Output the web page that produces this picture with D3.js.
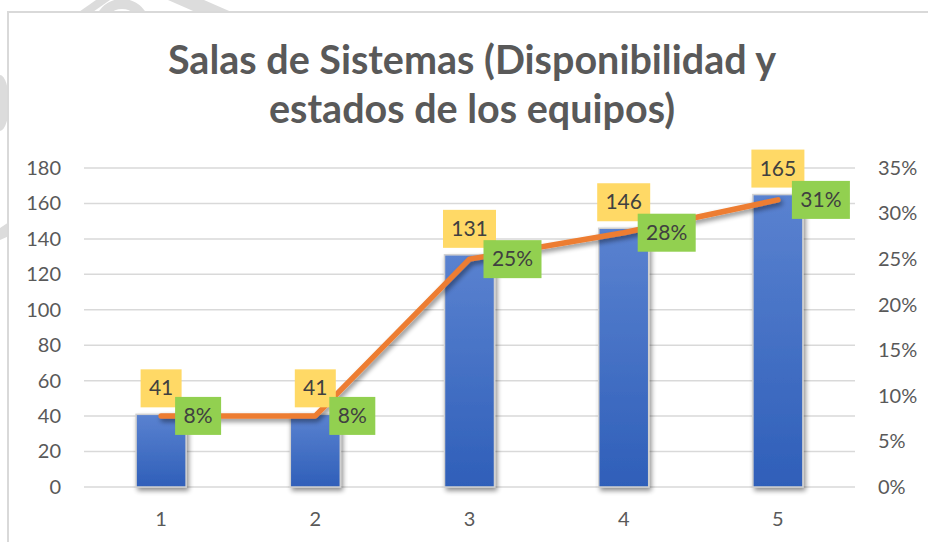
<!DOCTYPE html>
<html><head><meta charset="utf-8">
<script src="https://cdn.jsdelivr.net/npm/d3@7"></script>
<style>body{margin:0;background:#fff}svg{display:block}</style>
</head><body>
<script>
const categories = ["1","2","3","4","5"];
const counts = [41, 41, 131, 146, 165];
const shares = [0.078, 0.078, 0.25, 0.279, 0.315];
const shareLabels = ["8%","8%","25%","28%","31%"];
const leftTicks = [0,20,40,60,80,100,120,140,160,180];
const rightTicks = [0,0.05,0.10,0.15,0.20,0.25,0.30,0.35];
const titleLines = ["Salas de Sistemas (Disponibilidad y","estados de los equipos)"];

const W=928,H=542, font="Lato, 'Noto Sans', sans-serif";
const svg=d3.select("body").append("svg").attr("width",W).attr("height",H);
const defs=svg.append("defs");
const g1=defs.append("linearGradient").attr("id","barg").attr("x1",0).attr("y1",0).attr("x2",0).attr("y2",1);
g1.append("stop").attr("offset","0%").attr("stop-color","#5a82d0");
g1.append("stop").attr("offset","100%").attr("stop-color","#2f5fb9");
const f=defs.append("filter").attr("id","sh").attr("x","-30%").attr("y","-30%").attr("width","160%").attr("height","160%");
f.append("feGaussianBlur").attr("in","SourceAlpha").attr("stdDeviation",2.5).attr("result","b");
f.append("feOffset").attr("in","b").attr("dx",2).attr("dy",3).attr("result","o");
f.append("feComponentTransfer").attr("in","o").attr("result","o2").append("feFuncA").attr("type","linear").attr("slope",0.45);
const m=f.append("feMerge"); m.append("feMergeNode").attr("in","o2"); m.append("feMergeNode").attr("in","SourceGraphic");

// faint watermark pieces outside the chart frame
const wm=svg.append("g").attr("fill","#dcdcdc").attr("stroke","none");
wm.append("circle").attr("cx",122).attr("cy",27).attr("r",23).attr("fill","none").attr("stroke","#dcdcdc").attr("stroke-width",10);
wm.append("path").attr("d","M76,14 L96,0 L110,0 L90,14 Z");
wm.append("path").attr("d","M168,0 L204,0 L236,14 L200,14 Z");
wm.append("ellipse").attr("cx",0).attr("cy",103).attr("rx",9).attr("ry",28);
wm.append("path").attr("d","M0,228 L9,222 L9,236 L0,240 Z");

// chart frame
svg.append("rect").attr("x",8).attr("y",12).attr("width",W+10).attr("height",H+10)
  .attr("fill","#fff").attr("stroke","#d9d9d9").attr("stroke-width",2);

const x=d3.scaleBand().domain(categories).range([84,855]).paddingInner(0).paddingOuter(0);
const yL=d3.scaleLinear().domain([0,180]).range([487,168]);
const yR=d3.scaleLinear().domain([0,0.35]).range([487,168]);

// title
svg.append("g").selectAll("text").data(titleLines).join("text")
  .attr("x",472).attr("y",(d,i)=>74+i*49).attr("text-anchor","middle")
  .attr("font-family",font).attr("font-weight",700).attr("font-size",39.5).attr("fill","#595959").text(d=>d);

// gridlines
svg.append("g").selectAll("line").data(leftTicks).join("line")
  .attr("x1",84).attr("x2",855).attr("y1",d=>yL(d)).attr("y2",d=>yL(d))
  .attr("stroke","#d9d9d9").attr("stroke-width",1.5);

// left axis
const axL=svg.append("g").attr("transform","translate(84,0)")
  .call(d3.axisLeft(yL).tickValues(leftTicks).tickSize(0).tickPadding(23));
axL.select(".domain").remove();
axL.selectAll("text").attr("font-family",font).attr("font-size",20).attr("fill","#595959");

// right axis
const axR=svg.append("g").attr("transform","translate(855,0)")
  .call(d3.axisRight(yR).tickValues(rightTicks).tickFormat(d3.format(".0%")).tickSize(0).tickPadding(23));
axR.select(".domain").remove();
axR.selectAll("text").attr("font-family",font).attr("font-size",20).attr("fill","#595959");

// x axis
const axB=svg.append("g").attr("transform","translate(0,487)")
  .call(d3.axisBottom(x).tickSize(0).tickPadding(25));
axB.select(".domain").remove();
axB.selectAll("text").attr("font-family",font).attr("font-size",20).attr("fill","#595959");

// bars
const bw=50;
svg.append("g").selectAll("rect").data(counts).join("rect")
  .attr("x",(d,i)=>x(categories[i])+x.bandwidth()/2-bw/2).attr("width",bw)
  .attr("y",d=>yL(d)).attr("height",d=>487-yL(d))
  .attr("fill","url(#barg)").attr("stroke","#d0d0d0").attr("stroke-width",1.5).attr("filter","url(#sh)");

// line
const cx=i=>x(categories[i])+x.bandwidth()/2;
svg.append("path").datum(shares)
  .attr("d",d3.line().x((d,i)=>cx(i)).y(d=>yR(d)))
  .attr("fill","none").attr("stroke","#ed7d31").attr("stroke-width",5.5)
  .attr("stroke-linecap","round").attr("stroke-linejoin","round").attr("filter","url(#sh)");

// count labels
const lc=svg.append("g").selectAll("g").data(counts).join("g");
lc.each(function(d,i){
  const g=d3.select(this);
  const t=String(d), w=t.length===2?41:53;
  const bx=cx(i)-w/2, by=yL(d)-7-38;
  g.append("rect").attr("x",bx).attr("y",by).attr("width",w).attr("height",38).attr("fill","#ffd966");
  g.append("text").attr("x",cx(i)).attr("y",by+26).attr("text-anchor","middle")
   .attr("font-family",font).attr("font-size",21).attr("fill","#404040").text(t);
});

// share labels
const ls=svg.append("g").selectAll("g").data(shares).join("g");
ls.each(function(d,i){
  const g=d3.select(this);
  const t=shareLabels[i], w=t.length===2?46:58;
  const bx=cx(i)+14, by=yR(d)-19;
  g.append("rect").attr("x",bx).attr("y",by).attr("width",w).attr("height",38).attr("fill","#92d050");
  g.append("text").attr("x",bx+w/2).attr("y",by+26).attr("text-anchor","middle")
   .attr("font-family",font).attr("font-size",21).attr("fill","#404040").text(t);
});
</script>
</body></html>
